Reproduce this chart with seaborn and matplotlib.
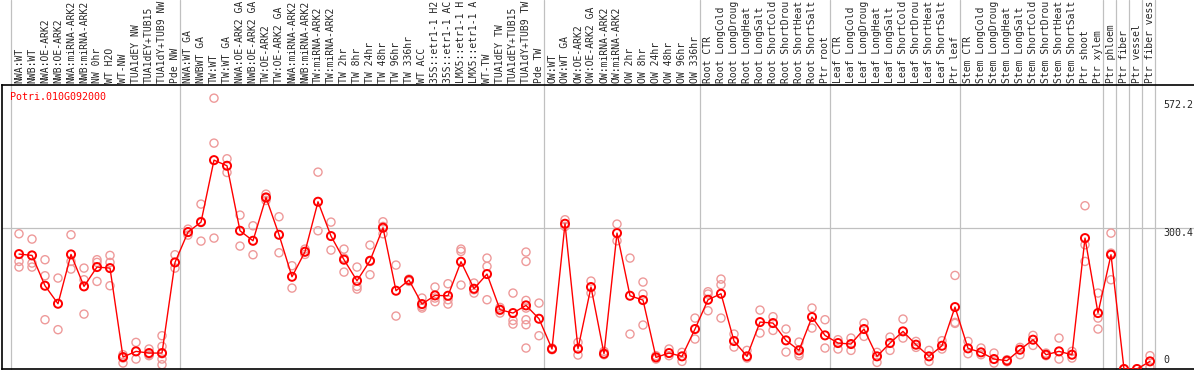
import matplotlib
matplotlib.use("Agg")
import matplotlib.pyplot as plt
import seaborn as sns
import pandas as pd

gene_name = "Potri.010G092000"

categories = [
    "NWA:WT", "NWB:WT", "NWA:OE-ARK2", "NWB:OE-ARK2", "NWA:miRNA-ARK2", "NWB:miRNA-ARK2",
    "NW 0hr", "WT H2O", "WT-NW", "TUA1dEY NW", "TUA1dEY+TUB15 NW", "TUA1dY+TUB9 NW", "Pde NW",
    "NWA:WT GA", "NWBWT GA", "TW:WT", "TW:WT GA", "NWA:OE-ARK2 GA", "NWB:OE-ARK2 GA",
    "TW:OE-ARK2", "TW:OE-ARK2 GA", "NWA:miRNA-ARK2", "NWB:miRNA-ARK2", "TW:miRNA-ARK2",
    "TW:miRNA-ARK2", "TW 2hr", "TW 8hr", "TW 24hr", "TW 48hr", "TW 96hr", "TW 336hr",
    "WT ACC", "35S::etr1-1 H2O", "35S::etr1-1 ACC", "LMX5::etr1-1 H2O", "LMX5::etr1-1 ACC",
    "WT-TW", "TUA1dEY TW", "TUA1dEY+TUB15 TW", "TUA1dY+TUB9 TW", "Pde TW",
    "OW:WT", "OW:WT GA", "OW:OE-ARK2", "OW:OE-ARK2 GA", "OW:miRNA-ARK2", "OW:miRNA-ARK2",
    "OW 2hr", "OW 8hr", "OW 24hr", "OW 48hr", "OW 96hr", "OW 336hr",
    "Root CTR", "Root LongCold", "Root LongDrought", "Root LongHeat", "Root LongSalt",
    "Root ShortCold", "Root ShortDrought", "Root ShortHeat", "Root ShortSalt", "Ptr root",
    "Leaf CTR", "Leaf LongCold", "Leaf LongDrought", "Leaf LongHeat", "Leaf LongSalt",
    "Leaf ShortCold", "Leaf ShortDrought", "Leaf ShortHeat", "Leaf ShortSalt", "Ptr leaf",
    "Stem CTR", "Stem LongCold", "Stem LongDrought", "Stem LongHeat", "Stem LongSalt",
    "Stem ShortCold", "Stem ShortDrought", "Stem ShortHeat", "Stem ShortSalt", "Ptr shoot",
    "Ptr xylem", "Ptr phloem", "Ptr fiber", "Ptr vessel", "Ptr fiber vessel",
]

# number of categories in each sample group (separated by vertical lines)
group_sizes = [13, 28, 12, 10, 10, 11, 1, 1, 1, 1]

mean_values = [
    244.4, 241.6, 177.1, 138.8, 243.7, 175.7, 216.8, 214.6, 25.4, 37.5, 33.9, 33.9, 226.7,
    291.2, 312.4, 444.2, 432.2, 294.0, 272.7, 364.9, 285.5, 196.2, 249.4, 355.7, 282.7,
    232.4, 187.7, 230.2, 300.4, 166.5, 189.1, 138.1, 156.5, 155.8, 228.1, 170.7, 201.9,
    126.1, 119.0, 135.3, 106.9,
    42.5, 308.9, 43.2, 174.3, 32.5, 289.0, 155.8, 146.6, 24.7, 33.9, 26.9, 85.0,
    147.3, 160.1, 59.5, 26.9, 99.8, 97.7, 60.9, 39.6, 110.5, 71.5,
    55.2, 53.1, 85.0, 26.9, 55.2, 80.0, 51.7, 26.9, 49.5, 131.7,
    43.9, 35.4, 21.2, 17.7, 41.0, 62.3, 30.4, 37.5, 30.4, 278.4, 119.0,
    243.0, 0.0, 0.0, 16.2,
]

replicate_values = [
    [287.6, 228.8, 216.8], [276.3, 225.3, 216.8], [232.4, 198.3, 104.8], [193.4, 83.6],
    [285.5, 228.8, 212.5], [214.6, 189.8, 116.8], [232.4, 226.7, 186.3], [241.6, 226.7, 177.1],
    [30.4, 23.3, 12.7], [56.6, 21.2], [42.5, 30.4, 28.3], [70.8, 48.1, 32.5, 21.2, 9.1],
    [243.0, 214.6],
    [297.5, 291.2, 284.8], [350.7, 313.8, 272.0], [576.0, 480.4, 278.4], [447.1, 418.0],
    [327.3, 261.4], [304.6, 243.0], [371.9, 363.4, 358.5], [323.8, 247.2], [219.6, 172.1],
    [255.0, 249.4, 243.7], [418.7, 294.0], [312.4, 252.9], [255.0, 235.9, 206.1],
    [216.8, 175.7, 170.0], [263.5, 228.8, 200.5], [313.1, 303.2, 287.6], [221.0, 112.6],
    [191.2, 186.3], [150.9, 133.1, 129.6], [174.3, 150.9, 143.1], [181.3, 147.3, 138.1],
    [255.0, 250.1, 178.5], [182.8, 168.6, 161.5], [235.9, 218.2, 147.3],
    [131.0, 124.6, 119.0], [161.5, 103.4, 95.6],
    [248.7, 228.8, 145.9, 129.6, 104.8, 94.2, 44.6], [140.2, 70.8],
    [44.6, 41.0], [317.4, 303.2], [56.6, 29.7], [187.0, 161.5], [37.5, 30.4], [308.2, 272.7],
    [235.9, 74.3], [184.9, 159.4, 93.5], [28.3, 21.2], [42.5, 28.3], [35.4, 16.2],
    [108.3, 63.7],
    [164.3, 159.4, 123.9], [191.2, 179.2, 108.3], [74.3, 46.7], [39.6, 23.3], [125.3, 76.4],
    [111.2, 82.1], [85.0, 36.1], [57.3, 32.5, 28.3], [129.6, 87.1], [104.8, 44.6],
    [62.3, 42.5], [65.8, 39.6], [97.7, 69.4], [35.4, 14.1], [67.9, 39.6], [106.2, 65.8],
    [58.7, 46.0], [39.6, 16.2], [60.2, 42.5], [199.0, 99.1, 97.0],
    [58.7, 32.5], [44.6, 30.4], [33.9, 12.7], [19.8, 15.5], [46.0, 30.4], [71.5, 50.2],
    [33.9, 28.3], [65.8, 21.2], [37.5, 23.3], [347.2, 264.2, 228.8], [161.5, 108.3, 85.0],
    [289.0, 246.5, 189.8], [0.0], [0.0], [28.3, 4.2],
]

y_tick_values = [572.2, 300.4, 0]

# ---------------------------------------------------------------------------
W, H = 1194, 370
fig = plt.figure(figsize=(W / 100, H / 100), dpi=100)
sns.set_style("white")
plt.rcParams["font.family"] = ["DejaVu Sans Mono"]

ax_left, ax_right = 1.5, 1194.0
ax_top, ax_bottom = 85.0, 369.0
ax = fig.add_axes([ax_left / W, (H - ax_bottom) / H,
                   (ax_right - ax_left) / W, (ax_bottom - ax_top) / H])

x0_px, step_px = 19.0, 13.0
ax.set_xlim((ax_left - x0_px) / step_px, (ax_right - x0_px) / step_px)
ax.set_ylim(0, 604)

n = len(categories)
positions = list(range(n))

rep_df = pd.DataFrame(
    [(i, v) for i, reps in enumerate(replicate_values) for v in reps],
    columns=["pos", "value"],
)
mean_df = pd.DataFrame({"pos": positions, "value": mean_values})

grid_col = "#c0c0c0"
# vertical group separators (extend through label area)
ext = 1 + (ax_top - 0) / (ax_bottom - ax_top)
start = 0
bounds = [0]
for g in group_sizes:
    start += g
    bounds.append(start)
for b in bounds:
    ax.axvline(b - 0.62, ymin=0, ymax=ext, color=grid_col, lw=0.9,
               clip_on=False, zorder=0)
ax.axhline(y_tick_values[1], color=grid_col, lw=0.9, zorder=0)

sns.scatterplot(data=rep_df, x="pos", y="value", ax=ax, marker="o", s=34,
                facecolors="none", edgecolor="#ee9a9a", linewidth=1.0,
                zorder=2, legend=False)
sns.lineplot(data=mean_df, x="pos", y="value", ax=ax, color="#ff0000",
             lw=1.0, zorder=3, legend=False)
sns.scatterplot(data=mean_df, x="pos", y="value", ax=ax, marker="o", s=34,
                facecolors="none", edgecolor="#ff0000", linewidth=1.4,
                zorder=4, legend=False)

# category labels on top, rotated; the label strip only shows 14 characters
shown_labels = [c[:14].rstrip() for c in categories]
ax.xaxis.tick_top()
ax.set_xticks(positions)
ax.set_xticklabels(shown_labels, rotation=90, fontsize=7.0,
                   family="DejaVu Sans Mono", va="bottom", ha="center")
ax.tick_params(axis="x", length=0, pad=1.5)
ax.set_yticks([])
ax.set_xlabel("")
ax.set_ylabel("")

for s in ["left", "bottom", "top"]:
    ax.spines[s].set_visible(True)
    ax.spines[s].set_color("black")
    ax.spines[s].set_linewidth(1.2)
ax.spines["right"].set_visible(False)

# value labels on right
lab_x = (1163 - x0_px) / step_px
ax.text(lab_x, y_tick_values[0], f"{y_tick_values[0]}", ha="left", va="top",
        fontsize=7.2, family="DejaVu Sans Mono")
ax.text(lab_x, y_tick_values[1], f"{y_tick_values[1]}", ha="left", va="top",
        fontsize=7.2, family="DejaVu Sans Mono")
ax.text(lab_x, 9, f"{y_tick_values[2]}", ha="left", va="bottom",
        fontsize=7.2, family="DejaVu Sans Mono")

# gene name
ax.text(8.5 / (ax_right - ax_left), 1 - 6.5 / (ax_bottom - ax_top), gene_name,
        transform=ax.transAxes, ha="left", va="top", color="#ff0000",
        fontsize=7.2, family="DejaVu Sans Mono")

fig.savefig("out.png", dpi=100)
